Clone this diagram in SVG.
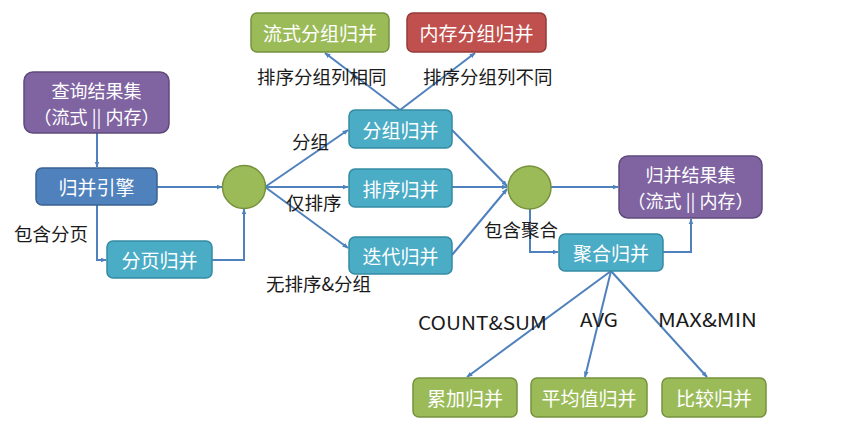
<svg xmlns="http://www.w3.org/2000/svg" width="862" height="430" viewBox="0 0 862 430">
  <defs>
    <marker id="arr" viewBox="0 0 10 10" refX="9" refY="5" markerWidth="6" markerHeight="6" orient="auto" markerUnits="userSpaceOnUse">
      <path d="M0,1 L10,5 L0,9 z" fill="#4f81bd"/>
    </marker>
    <style>
      .box text { fill: #ffffff; font-family: "Noto Sans CJK SC", "Noto Sans", sans-serif; font-size: 19px; text-anchor: middle; dominant-baseline: central; }
      .box text.two { font-size: 18px; }
      .purple rect { fill: #8064a2; stroke: #5f4a7c; stroke-width: 1.5; }
      .blue rect { fill: #4f81bd; stroke: #3a6290; stroke-width: 1.5; }
      .teal rect { fill: #4bacc6; stroke: #348aa2; stroke-width: 1.5; }
      .green rect { fill: #9bbb59; stroke: #76923c; stroke-width: 1.5; }
      .red rect { fill: #c0504d; stroke: #943b39; stroke-width: 1.5; }
      .junction circle { fill: #9bbb59; stroke: #76923c; stroke-width: 1.5; }
      .edges path { fill: none; stroke: #4f81bd; stroke-width: 2; marker-end: url(#arr); }
      .lbl { fill: #1a1a1a; font-family: "Noto Sans CJK SC", "Noto Sans", sans-serif; font-size: 18.5px; dominant-baseline: central; }
      .lat { font-size: 19px; }
    </style>
  </defs>
  <rect width="862" height="430" fill="#ffffff"/>

  <!-- connectors -->
  <g id="edges" class="edges">
    <path d="M97,133 L97,167"/>
    <path d="M157,187 L222,187"/>
    <path d="M97,205 L97,260 L106,260"/>
    <path d="M212,260 L244,260 L244,209"/>
    <path d="M265,187 L348,130"/>
    <path d="M265,187 L348,187"/>
    <path d="M265,187 L348,248"/>
    <path d="M400,110 L325,53"/>
    <path d="M400,110 L475,53"/>
    <path d="M452,130 L507,186"/>
    <path d="M452,187 L507,187"/>
    <path d="M452,255 L507,189"/>
    <path d="M551,187 L618,187"/>
    <path d="M530,209 L530,252 L558,252"/>
    <path d="M663,252 L691,252 L691,219"/>
    <path d="M611,271 L467,377"/>
    <path d="M611,271 L585,377"/>
    <path d="M611,271 L707,377"/>
  </g>

  <!-- nodes -->
  <g id="query-result" class="box purple">
    <rect x="24" y="72" width="145" height="61" rx="9"/>
    <text class="two" x="96.5" y="89.5">查询结果集</text>
    <text class="two" x="96.5" y="115.5">（流式 || 内存）</text>
  </g>
  <g id="merge-engine" class="box blue">
    <rect x="36" y="168" width="121" height="37" rx="6"/>
    <text x="96.5" y="186.5">归并引擎</text>
  </g>
  <g id="pagination-merge" class="box teal">
    <rect x="107" y="241" width="105" height="37" rx="6"/>
    <text x="159.5" y="259.5">分页归并</text>
  </g>
  <g id="junction-1" class="junction">
    <circle cx="244" cy="187" r="21.5"/>
  </g>
  <g id="stream-group-merge" class="box green">
    <rect x="251" y="13" width="138" height="39" rx="6"/>
    <text x="320" y="32.5">流式分组归并</text>
  </g>
  <g id="memory-group-merge" class="box red">
    <rect x="407" y="13" width="139" height="39" rx="6"/>
    <text x="476.5" y="32.5">内存分组归并</text>
  </g>
  <g id="group-merge" class="box teal">
    <rect x="349" y="110" width="103" height="38" rx="6"/>
    <text x="400.5" y="129">分组归并</text>
  </g>
  <g id="order-merge" class="box teal">
    <rect x="349" y="169" width="103" height="38" rx="6"/>
    <text x="400.5" y="188">排序归并</text>
  </g>
  <g id="iterator-merge" class="box teal">
    <rect x="349" y="237" width="103" height="37" rx="6"/>
    <text x="400.5" y="255.5">迭代归并</text>
  </g>
  <g id="junction-2" class="junction">
    <circle cx="529.5" cy="187.5" r="21.5"/>
  </g>
  <g id="merged-result" class="box purple">
    <rect x="619" y="156" width="143" height="62" rx="9"/>
    <text class="two" x="690.5" y="174">归并结果集</text>
    <text class="two" x="690.5" y="200">（流式 || 内存）</text>
  </g>
  <g id="aggregation-merge" class="box teal">
    <rect x="559" y="234" width="104" height="37" rx="6"/>
    <text x="611" y="252.5">聚合归并</text>
  </g>
  <g id="accumulate-merge" class="box green">
    <rect x="413" y="378" width="104" height="39" rx="6"/>
    <text x="465" y="397.5">累加归并</text>
  </g>
  <g id="average-merge" class="box green">
    <rect x="531" y="378" width="116" height="39" rx="6"/>
    <text x="589" y="397.5">平均值归并</text>
  </g>
  <g id="compare-merge" class="box green">
    <rect x="662" y="378" width="104" height="39" rx="6"/>
    <text x="714" y="397.5">比较归并</text>
  </g>

  <!-- edge labels -->
  <g id="labels">
    <text class="lbl" x="14" y="233">包含分页</text>
    <text class="lbl" x="257" y="76">排序分组列相同</text>
    <text class="lbl" x="423" y="76">排序分组列不同</text>
    <text class="lbl" x="292" y="141">分组</text>
    <text class="lbl" x="286" y="202">仅排序</text>
    <text class="lbl" x="266" y="283">无排序&amp;分组</text>
    <text class="lbl" x="484" y="229">包含聚合</text>
    <text class="lbl lat" x="418" y="321" textLength="129" lengthAdjust="spacingAndGlyphs">COUNT&amp;SUM</text>
    <text class="lbl lat" x="580" y="318" textLength="38" lengthAdjust="spacingAndGlyphs">AVG</text>
    <text class="lbl lat" x="658" y="318" textLength="99" lengthAdjust="spacingAndGlyphs">MAX&amp;MIN</text>
  </g>
</svg>
